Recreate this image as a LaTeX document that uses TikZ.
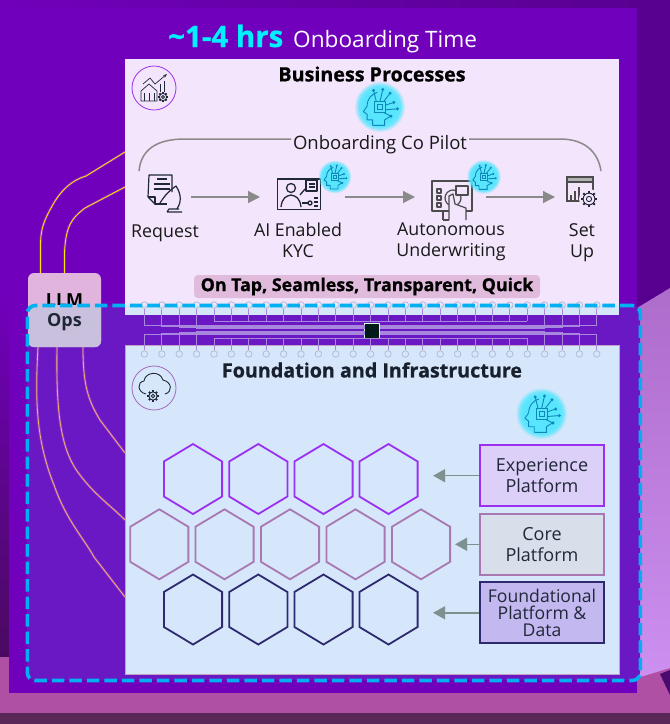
\documentclass[tikz,border=0pt]{standalone}
\usepackage{xcolor}
\usepackage{fontspec}
\setmainfont{Open Sans}
\newfontfamily\heavyfont[BoldFeatures={FakeBold=0.7}]{Open Sans}
\usetikzlibrary{shapes}
\usetikzlibrary{arrows.meta}
\usetikzlibrary{positioning}
\usetikzlibrary{calc}
\definecolor{mainpanel}{HTML}{7000BB}
\definecolor{darkpanel}{HTML}{58008F}
\definecolor{zonefill}{HTML}{6A18C4}
\definecolor{procfill}{HTML}{F3E5FB}
\definecolor{infrafill}{HTML}{D6E6FB}
\definecolor{zoneline}{HTML}{00B0F0}
\definecolor{hrscyan}{HTML}{00F0FF}
\definecolor{flowgrey}{HTML}{8A8A8A}
\definecolor{platgrey}{HTML}{7F9090}
\definecolor{hexexp}{HTML}{9B30F0}
\definecolor{hexcore}{HTML}{A878B0}
\definecolor{hexfound}{HTML}{2D2A6E}
\definecolor{inkdark}{HTML}{202838}
\definecolor{headline}{HTML}{0F88B8}
\definecolor{glowcyan}{HTML}{55E6FF}
\definecolor{traceline}{HTML}{A888DC}
\definecolor{pinline}{HTML}{B4BCD8}
\definecolor{wireyellow}{HTML}{FFE800}
\definecolor{wireorange}{HTML}{F4B070}
\definecolor{wireglow}{HTML}{C868D0}
\definecolor{bandpink}{HTML}{B050A5}
\definecolor{banddark}{HTML}{5A2858}
\definecolor{stripdark}{HTML}{4A0A60}
\definecolor{lilactop}{HTML}{AE6CCB}
\definecolor{lilaclow}{HTML}{CC90F0}
\definecolor{wedgedark}{HTML}{4A0A70}
\definecolor{pillfill}{HTML}{E0BBDC}
\definecolor{expfill}{HTML}{DCCFF8}
\definecolor{corefill}{HTML}{D9DEEB}
\definecolor{foundfill}{HTML}{C3B8F0}
\definecolor{llmtop}{HTML}{E0B4DC}
\definecolor{llmlow}{HTML}{C9C0DE}
\newcommand{\bodyfont}{\fontsize{17.8}{21}\selectfont}
\tikzset{
  aihead/.pic={
    \foreach \rr/\oo in {27/0.3,25/0.5,23/0.7,20/0.8} {
      \fill[glowcyan,opacity=\oo] (0,0) circle (\rr);
    }
    \draw[headline,line width=0.9pt,line join=round]
      (-8,20) -- (-8,14) -- (-14,14) -- (-14,8) -- (-18,5) -- (-14,-1)
      .. controls (-14,-9) and (-9,-14) .. (-3,-16);
    \draw[headline,line width=0.9pt] (-8,20) -- (5,20) -- (5,14) -- (13,9);
    \draw[headline,line width=0.9pt] (-6,-6) rectangle (6,6);
    \draw[headline,line width=0.9pt] (-2.5,-2.5) rectangle (2.5,2.5);
    \foreach \tx/\ty/\ux/\uy in {0/-6/3/-19,4/-6/11/-15,6/-2/15/-5,6/3/19/2,4/6/12/10,-4/-6/-7/-18} {
      \draw[headline,line width=0.9pt] (\tx,\ty) -- (\ux,\uy);
      \fill[headline] (\ux,\uy) circle (1.8);
    }
  },
  gearicon/.pic={
    \foreach \aa in {0,45,...,315} {
      \draw[inkdark,line width=2pt] (\aa:0.85) -- (\aa:1.25);
    }
    \draw[inkdark,line width=0.9pt] (0,0) circle (0.9);
    \draw[inkdark,line width=0.9pt] (0,0) circle (0.4);
  },
}
\begin{document}
\begin{tikzpicture}[
  x=1pt,y=-1pt,
  flow/.style={
    -{Triangle[length=12pt,width=12pt]},draw=flowgrey,line width=1.3pt
  },
  platflow/.style={
    -{Triangle[length=12pt,width=13pt]},draw=platgrey,line width=1.5pt
  },
  panel/.style={
    rectangle,inner sep=0pt,outer sep=0pt,fill=#1
  },
  hexcell/.style={
    regular polygon,regular polygon sides=6,shape border rotate=30,
    minimum size=70pt,inner sep=0pt,outer sep=0pt,
    xscale=0.96,transform shape,
    draw=#1,line width=1.8pt
  },
  platbox/.style 2 args={
    rectangle,draw=#1,fill=#2,line width=2pt,
    minimum width=124pt,minimum height=61pt,
    inner sep=0pt,align=center,text=inkdark
  },
  iconspot/.style 2 args={
    rectangle,inner sep=0pt,outer sep=0pt,
    minimum width=#1pt,minimum height=#2pt
  },
  lbl/.style={
    align=center,inner sep=0pt,font=\bodyfont,text=black!90
  },
  heading/.style={
    inner sep=0pt,font=\fontsize{19.7}{22}\selectfont\heavyfont\bfseries
  },
  badge/.style={
    circle,draw=#1,line width=0.8pt,minimum size=44pt,inner sep=0pt
  },
  pin/.style={
    circle,draw=pinline,line width=0.8pt,minimum size=6.5pt,inner sep=0pt
  },
  trace/.style={
    draw=traceline,line width=0.7pt
  },
  wire/.style 2 args={
    draw=#1,line width=0.8pt,
    preaction={draw=#2,line width=2.4pt,opacity=0.4}
  },
]

  \def\pinbase{144.4}%
  \def\pintop{305}%
  \def\pinlow{354}%
  \def\pinstep{17.4}%

  % Background
  \useasboundingbox (0,0) rectangle (670,724);
  \shade[left color=mainpanel,right color=darkpanel] (0,0) rectangle (670,300);
  \fill[darkpanel] (637,0) rectangle (670,724);
  \shade[top color=mainpanel,bottom color=stripdark] (0,300) rectangle (9,660);
  \fill[bandpink] (0,657) rectangle (670,713);
  \fill[banddark] (0,713) rectangle (670,724);
  \shade[top color=lilactop,bottom color=lilaclow]
    (637,308) -- (670,288) -- (670,668) -- (637,678) -- cycle;
  \fill[wedgedark] (660,674) -- (670,670) -- (670,695) -- cycle;

  % Panels
  \node[panel=mainpanel,minimum width=628pt,minimum height=685pt] (mainbox) at (323,350.5) {};
  \node[panel=zonefill,rounded corners=8pt,minimum width=613pt,minimum height=375pt] (zone) at (333.5,492.5) {};
  \node[panel=procfill,minimum width=494pt,minimum height=256pt] (procbox) at (372,187) {};
  \node[panel=infrafill,minimum width=494pt,minimum height=10pt] (procfoot) at (372,310) {};
  \node[panel=infrafill,draw=hexcore!70,line width=0.5pt,minimum width=494pt,minimum height=329pt] (infrabox) at (372,509.5) {};

  % Title
  \node[inner sep=0pt,anchor=base west,text=hrscyan,font=\fontsize{29.5}{32}\selectfont\heavyfont\bfseries] (hrs) at (168,47) {\textasciitilde 1-4 hrs};
  \node[inner sep=0pt,anchor=base west,text=white,font=\fontsize{22.6}{26}\selectfont] (onbtime) at (293,47) {Onboarding Time};

  % Business processes
  \pic[scale=0.92] at (380,107) {aihead};
  \node[heading] (bizhead) at (372,74) {Business Processes};
  \node[lbl,font=\fontsize{18.5}{21}\selectfont] (copilot) at (380,145) {Onboarding Co Pilot};
  \node[badge=hexexp] (bizbadge) at (154,88) {};

  \node[iconspot={52}{52}] (request) at (165,197) {};
  \node[iconspot={85}{52}] (kyc) at (302.5,197) {};
  \node[iconspot={71}{52}] (auton) at (450.5,197) {};
  \node[iconspot={46}{52}] (setup) at (578,197) {};

  \foreach \from/\to in {request/kyc,kyc/auton,auton/setup} {
    \draw[flow] (\from) -- (\to);
  }
  \draw[draw=flowgrey,line width=1.5pt] (request.north west)
    .. controls (141,150) and (156,139) .. (185,139) -- (291,139);
  \draw[draw=flowgrey,line width=1.5pt] (469,139) -- (560,139)
    .. controls (585,139) and (598,152) .. (setup.north east);

  \node[lbl] (lblrequest) at (165,233) {Request};
  \node[lbl,anchor=north] (lblkyc) at (298,223) {AI Enabled\\KYC};
  \node[lbl,anchor=north] (lblauton) at (451,223) {Autonomous\\Underwriting};
  \node[lbl,anchor=north] (lblsetup) at (582,223) {Set\\Up};

  \node[fill=pillfill,rounded corners=4pt,inner sep=0pt,minimum width=346pt,minimum height=23pt,
    font=\fontsize{17.8}{20}\selectfont\heavyfont\bfseries] (ontap) at (367,286.5) {\raisebox{-2pt}{On Tap, Seamless, Transparent, Quick}};

  % Chart icon
  \begin{scope}[inkdark,line width=0.7pt]
    \draw (141,101) -- (141,91) -- (149,84) -- (157,91) -- (157,101) -- cycle;
    \foreach \bx in {144,149,154} {
      \draw (\bx,101) -- (\bx,93);
    }
    \draw[-{Stealth[length=4pt]}] (143,84) -- (150,78) -- (155,84) -- (167,74);
    \draw (160,92) -- (160,84) (164,92) -- (164,81);
  \end{scope}
  \pic[scale=4] at (163,97) {gearicon};

  % Request icon
  \begin{scope}[inkdark,line width=1.2pt,line join=round]
    \draw (155,204) -- (148,197) -- (149,175) -- (172,175) -- (172,192);
    \draw (148,197) -- (155,197) -- (155,204) -- (167,204);
    \draw (157,179) -- (167,179) (154,184) -- (170,184) (154,189) -- (170,189);
    \draw (160,203) .. controls (165,195) and (170,190) .. (176,186)
      .. controls (182,195) and (181,203) .. (177,209);
    \draw (167,212) -- (182,212) (167,212) -- (169,209) -- (179,209);
  \end{scope}

  % KYC icon
  \begin{scope}[inkdark,line width=1.3pt,line join=round]
    \draw (277.5,179) rectangle (320.5,209.5);
    \draw (291,188) circle (4.5);
    \draw (281,207) .. controls (282,198) and (286,196) .. (291,195)
      .. controls (296,196) and (300,198) .. (301,207);
    \draw (306,180) rectangle (317,191);
    \draw (309,184) -- (315,184) (309,187) -- (315,187);
    \draw (305,189) -- (300,195);
    \draw (302,203) -- (308,203);
    \draw (310,203) circle (2);
    \draw (314,198) -- (318,198) (314,202) -- (318,202) (314,206) -- (318,206);
  \end{scope}
  \pic[scale=0.6] at (335,177) {aihead};

  % Underwriting icon
  \begin{scope}[black!70,line width=2pt,line join=round]
    \draw (432,181) rectangle (472,211);
    \foreach \sy in {191,198,205} {
      \draw[line width=1.2pt] (437,\sy-2) rectangle (441,\sy+2);
    }
    \draw[line width=1.2pt] (453,198) circle (8);
    \draw[line width=1.2pt,fill=procfill] (456,186) rectangle (468,195);
    \draw[line width=1.2pt,fill=procfill] (449,220) -- (449,196) -- (453,194) -- (455,204) -- (466,208) -- (466,220);
    \draw[line width=1.2pt] (443,220) -- (449,220) (443,211) -- (443,220);
  \end{scope}
  \pic[scale=0.62] at (484,177) {aihead};

  % Set up icon
  \begin{scope}[black!70,line width=1.2pt]
    \draw (567,177) rectangle (593,201);
    \draw[fill=black!30] (567,177) rectangle (593,182);
    \foreach \bx/\by in {571/195,575/191,579/187} {
      \draw (\bx,200) -- (\bx,\by);
    }
  \end{scope}
  \fill[procfill] (589,199) circle (10);
  \pic[scale=6.5] at (589,199) {gearicon};

  % Foundation
  \node[heading,text=inkdark!80!black] (infrahead) at (372,370) {Foundation and Infrastructure};
  \node[badge=hexcore!80!hexexp,fill=infrafill] (infrabadge) at (154,388) {};
  \draw[inkdark,line width=0.9pt]
    (146,394) .. controls (137,392) and (137,382) .. (144,381)
    .. controls (145,372) and (160,370) .. (163,380)
    .. controls (172,382) and (173,392) .. (165,394);
  \pic[scale=4.6] at (153,396) {gearicon};
  \pic[scale=0.93] at (541.7,413.7) {aihead};

  % Hexagons
  \foreach \hx [count=\c] in {193,258.3,323.5,388.5} {
    \node[hexcell=hexexp] (exp\c) at (\hx,479) {};
    \node[hexcell=hexfound] (found\c) at (\hx,609.5) {};
  }
  \foreach \hx [count=\c] in {159.3,224.5,290,355.5,421} {
    \node[hexcell=hexcore] (core\c) at (\hx,544.3) {};
  }

  % Platforms
  \node[platbox={hexexp}{expfill},font=\fontsize{18}{21}\selectfont] (expbox) at (542,475.7) {Experience\\Platform};
  \node[platbox={hexcore}{corefill},font=\fontsize{18}{21}\selectfont] (corebox) at (542,544.3) {Core\\Platform};
  \node[platbox={hexfound}{foundfill},font=\fontsize{17.6}{17}\selectfont] (foundbox) at (542,612.8) {Foundational\\Platform \&\\Data};
  \draw[platflow,shorten >=15.5pt] (expbox.west) -- (exp4.east |- expbox.west);
  \draw[platflow,shorten >=5pt] (corebox.west) -- (core5.east |- corebox.west);
  \draw[platflow,shorten >=15.5pt] (foundbox.west) -- (found4.east |- foundbox.west);

  % Circuit
  \foreach \i in {1,...,27} {
    \node[pin] (ptop\i) at (\pinbase+\pinstep*\i-\pinstep,\pintop) {};
    \node[pin] (plow\i) at (\pinbase+\pinstep*\i-\pinstep,\pinlow) {};
  }
  \node[panel=black!80!teal,draw=green!15!white,line width=1.5pt,minimum size=15pt] (chip) at (372,331) {};
  \foreach \i in {5,...,23} {
    \draw[trace] (ptop\i) -- (ptop\i |- 0,321);
    \draw[trace] (plow\i) -- (plow\i |- 0,338);
  }
  \draw[trace] (ptop5 |- 0,321) -- (ptop23 |- 0,321);
  \draw[trace] (plow5 |- 0,338) -- (plow23 |- 0,338);
  \foreach \i in {1,...,4} {
    \draw[trace] (ptop\i) -- ($(ptop\i |- 0,325)+(0,\i*1-1)$) -- ($(chip.west |- 0,325)+(0,\i*1-1)$);
    \draw[trace] (plow\i) -- ($(plow\i |- 0,334)-(0,\i*1-1)$) -- ($(chip.west |- 0,334)-(0,\i*1-1)$);
  }
  \foreach \i [count=\c] in {27,26,25,24} {
    \draw[trace] (ptop\i) -- ($(ptop\i |- 0,325)+(0,\c*1-1)$) -- ($(chip.east |- 0,325)+(0,\c*1-1)$);
    \draw[trace] (plow\i) -- ($(plow\i |- 0,334)-(0,\c*1-1)$) -- ($(chip.east |- 0,334)-(0,\c*1-1)$);
  }

  % LLM Ops
  \node[panel=llmtop,rounded corners=6pt,minimum width=73pt,minimum height=74pt] (llmops) at (64.5,310) {};
  \node[inner sep=0pt,font=\fontsize{18}{20}\selectfont\bfseries,text=black] (llmtxt) at (64.5,300.5) {LLM};
  \fill[llmlow,rounded corners=6pt] (28,305) [sharp corners] -- (28,320) [rounded corners=6pt] -- (28,347) -- (101,347) -- (101,320) [sharp corners] -- (101,305) -- cycle;
  \node[inner sep=0pt,font=\fontsize{18}{20}\selectfont\bfseries,text=inkdark] (opstxt) at (64.5,322) {Ops};

  \draw[wire={wireyellow}{wireglow}] (llmops.north -| 40.5,0) -- (40.5,245)
    .. controls (40.5,225) and (47,215) .. (55,201)
    .. controls (62,190) and (72,180) .. (86,176) -- (procbox.west |- 0,152);
  \draw[wire={wireyellow}{wireglow}] (llmops.north -| 64.5,0) -- (64.5,252)
    .. controls (66,225) and (72,218) .. (85,208) -- (procbox.west |- 0,187);
  \draw[wire={wireorange}{wireglow}] (llmops.south -| 38,0)
    .. controls (35,400) and (36,440) .. (54,485)
    .. controls (66,520) and (85,540) .. (94,557) -- (infrabox.west |- 0,597);
  \draw[wire={wireorange}{wireglow}] (llmops.south -| 57,0)
    .. controls (56,410) and (60,450) .. (80,475)
    .. controls (95,495) and (110,505) .. (infrabox.west |- 0,520);
  \draw[wire={wireorange}{wireglow}] (llmops.south -| 83,0)
    .. controls (83,385) and (88,400) .. (100,420) -- (infrabox.west |- 0,453);

  % Dashed zone
  \node[rectangle,draw=zoneline,line width=3.6pt,dash pattern=on 12.5pt off 5pt,rounded corners=8pt,
    inner sep=0pt,minimum width=613pt,minimum height=375pt] (zoneedge) at (333.8,493) {};

\end{tikzpicture}
\end{document}
